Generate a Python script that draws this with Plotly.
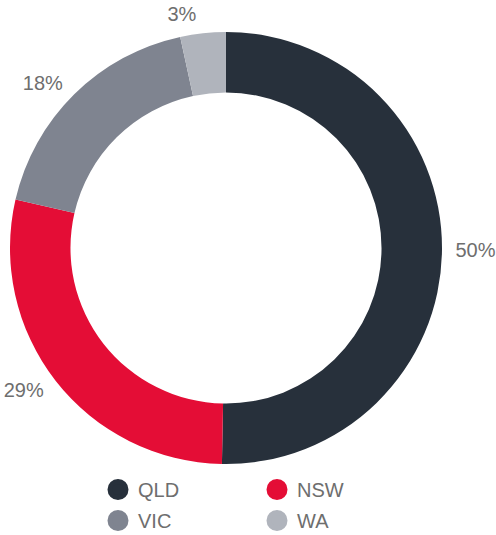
import plotly.graph_objects as go

labels = ["QLD", "NSW", "VIC", "WA"]
values = [50.3, 28.3, 18.0, 3.4]          # slice sizes
pct_labels = [50, 29, 18, 3]              # printed percentage labels
colors = ["#27303b", "#e40d36", "#7f8490", "#b0b4bc"]
legend_groups = ["legend", "legend2", "legend", "legend2"]

FONT = "Liberation Sans, Arial, sans-serif"
TXT = "#6e6e6e"
W, H = 496, 535
CX, CY, R = 226, 248, 216
RL = 224  # radius of the (invisible) label ring


def dom(r):
    return dict(x=[max(0, (CX - r) / W), min(1, (CX + r) / W)],
                y=[max(0, 1 - (CY + r) / H), min(1, 1 - (CY - r) / H)])


fig = go.Figure()
fig.add_trace(go.Pie(
    labels=labels, values=values, sort=False, direction="clockwise", rotation=0,
    hole=0.72, marker=dict(colors=colors, line=dict(width=0)),
    textinfo="none", showlegend=False, hoverinfo="label+text",
    text=[f"{p}%" for p in pct_labels],
    domain=dom(R),
))
# invisible ring used only to position the outside percentage labels
fig.add_trace(go.Pie(
    labels=labels, values=values, sort=False, direction="clockwise", rotation=0,
    hole=0.99, marker=dict(colors=["rgba(0,0,0,0)"] * 4, line=dict(width=0)),
    text=[f"{p}%" for p in pct_labels], textinfo="text", textposition="outside",
    textfont=dict(family=FONT, size=20, color=TXT),
    showlegend=False, hoverinfo="skip",
    domain=dom(RL),
))
for lab, col, lg in zip(labels, colors, legend_groups):
    fig.add_trace(go.Scatter(
        x=[None], y=[None], mode="markers", name=lab, legend=lg, legendgroup=lab,
        marker=dict(symbol="circle", size=16, color=col, line=dict(color=col, width=5)),
    ))

legend_common = dict(font=dict(family=FONT, size=20, color=TXT), bgcolor="rgba(0,0,0,0)",
                     orientation="v", yanchor="top", xanchor="left", itemclick=False,
                     tracegroupgap=2)
fig.update_layout(
    width=W, height=H, margin=dict(l=0, r=0, t=0, b=0, autoexpand=False),
    paper_bgcolor="white", plot_bgcolor="white",
    xaxis=dict(visible=False), yaxis=dict(visible=False),
    legend=dict(x=98 / W, y=1 - 470 / H, **legend_common),
    legend2=dict(x=257 / W, y=1 - 470 / H, **legend_common),
)
fig.write_html("out.html", config={"displayModeBar": False},
               post_script="document.body.style.margin='0';")
